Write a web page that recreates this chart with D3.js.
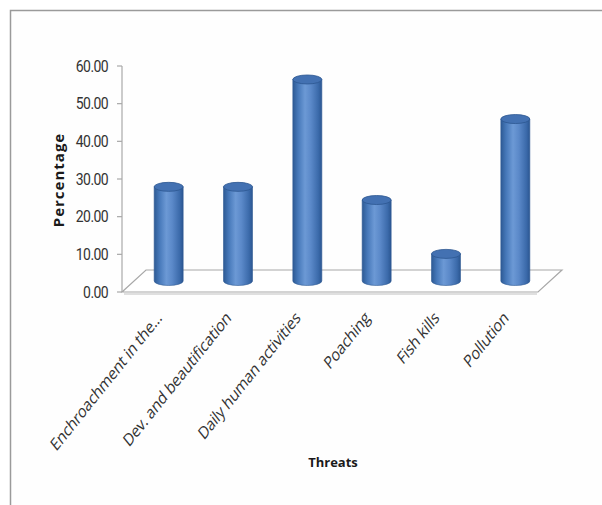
<!DOCTYPE html>
<html>
<head>
<meta charset="utf-8">
<script src="https://cdn.jsdelivr.net/npm/d3@7"></script>
<style>
  html, body { margin: 0; padding: 0; background: #ffffff; }
  svg { display: block; }
</style>
</head>
<body>
<svg id="chart" width="602" height="505"></svg>
<script>
// Threats to the water body, share of respondents (%)
const categories = [
  "Enchroachment in the...",
  "Dev. and beautification",
  "Daily human activities",
  "Poaching",
  "Fish kills",
  "Pollution"
];
const percentages = [25.0, 25.0, 53.5, 21.5, 7.2, 43.0];
const yTicks = [0, 10, 20, 30, 40, 50, 60];

const svg = d3.select("#chart");

// frame around the chart area
svg.append("rect")
  .attr("x", 10.5).attr("y", 10.5)
  .attr("width", 600).attr("height", 500)
  .attr("fill", "#fefefe")
  .attr("stroke", "#9a9a9a")
  .attr("stroke-width", 1.5);

// plot geometry (front plane of the 3-D floor)
const left = 122, right = 538, baseY = 292, topY = 66;
const depthX = 24, depthY = -22;          // floor depth offset
const midX = depthX / 2, midY = depthY / 2; // columns sit mid-depth

const x = d3.scaleBand().domain(categories).range([left, right]).paddingInner(0).paddingOuter(0);
const y = d3.scaleLinear().domain([0, 60]).range([baseY, topY]);

// column gradient (cylinder shading)
const defs = svg.append("defs");
const grad = defs.append("linearGradient").attr("id", "cyl").attr("x1", "0").attr("x2", "1").attr("y1", "0").attr("y2", "0");
[["0%", "#2d5a94"], ["18%", "#4678b9"], ["42%", "#6c99d5"], ["62%", "#5b89c9"], ["88%", "#3b6aaa"], ["100%", "#2b5691"]]
  .forEach(([o, c]) => grad.append("stop").attr("offset", o).attr("stop-color", c));

// floor
const floorPts = [
  [left, baseY], [right, baseY],
  [right + depthX, baseY + depthY], [left + depthX, baseY + depthY]
];
svg.append("polygon")
  .attr("points", floorPts.map(p => p.join(",")).join(" "))
  .attr("fill", "#ffffff")
  .attr("stroke", "#a8a8a8")
  .attr("stroke-width", 1.2);
svg.append("line")
  .attr("x1", left + 2).attr("x2", right - 1)
  .attr("y1", baseY + 2).attr("y2", baseY + 2)
  .attr("stroke", "#d4d4d4").attr("stroke-width", 1.5);

// value axis
const axisG = svg.append("g");
axisG.append("line")
  .attr("x1", left).attr("x2", left)
  .attr("y1", y(60)).attr("y2", y(0))
  .attr("stroke", "#a8a8a8").attr("stroke-width", 1.2);
axisG.selectAll("line.tick").data(yTicks).join("line")
  .attr("class", "tick")
  .attr("x1", left - 5).attr("x2", left)
  .attr("y1", d => y(d)).attr("y2", d => y(d))
  .attr("stroke", "#a8a8a8").attr("stroke-width", 1.2);
axisG.selectAll("text").data(yTicks).join("text")
  .attr("transform", d => `translate(${left - 14},${y(d)}) scale(1,1.15)`)
  .attr("dy", "0.36em")
  .attr("text-anchor", "end")
  .attr("font-family", "Roboto, 'Open Sans', sans-serif")
  .attr("font-size", 14)
  .attr("letter-spacing", -0.6)
  .attr("fill", "#333333")
  .text(d => d3.format(".2f")(d));

// cylinders
const rx = 14.5, ry = 4.5;
const bars = svg.append("g");
categories.forEach((c, i) => {
  const v = percentages[i];
  const cx = x(c) + x.bandwidth() / 2 + midX;
  const y0 = y(0) + midY;
  const yt = y(v) + midY;
  const body = `M${cx - rx},${yt} L${cx - rx},${y0} A${rx},${ry} 0 0 0 ${cx + rx},${y0} L${cx + rx},${yt} Z`;
  bars.append("path")
    .attr("d", body)
    .attr("fill", "url(#cyl)")
    .attr("stroke", "#2f5b94")
    .attr("stroke-width", 0.6);
  bars.append("ellipse")
    .attr("cx", cx).attr("cy", yt)
    .attr("rx", rx).attr("ry", ry)
    .attr("fill", "#4371b2")
    .attr("stroke", "#2c5790")
    .attr("stroke-width", 0.8);
});

// category labels (slanted, slightly tall lettering)
svg.append("g").selectAll("text").data(categories).join("text")
  .attr("transform", d => `translate(${x(d) + x.bandwidth() / 2 + 6},${baseY + 27}) scale(1,1.25) rotate(-45)`)
  .attr("text-anchor", "end")
  .attr("font-family", "'Open Sans', sans-serif")
  .attr("font-size", 14)
  .attr("letter-spacing", -0.2)
  .attr("fill", "#333333")
  .text(d => d);

// axis titles
svg.append("text")
  .attr("transform", `translate(64,180) rotate(-90)`)
  .attr("text-anchor", "middle")
  .attr("font-family", "'Open Sans', sans-serif")
  .attr("font-weight", "bold")
  .attr("font-size", 15)
  .attr("letter-spacing", 1)
  .attr("fill", "#1a1a1a")
  .text("Percentage");

svg.append("text")
  .attr("x", 333).attr("y", 467)
  .attr("text-anchor", "middle")
  .attr("font-family", "'Open Sans', sans-serif")
  .attr("font-weight", "bold")
  .attr("font-size", 13)
  .attr("fill", "#1a1a1a")
  .text("Threats");
</script>
</body>
</html>
